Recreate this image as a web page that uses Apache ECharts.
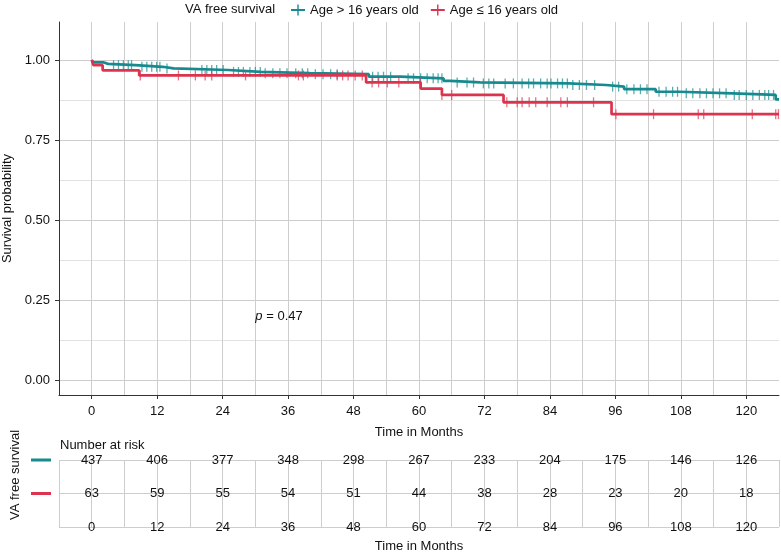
<!DOCTYPE html>
<html>
<head>
<meta charset="utf-8">
<style>html,body{margin:0;padding:0;background:#fff}#c{width:781px;height:556px}</style>
<script src="https://cdn.jsdelivr.net/npm/echarts@6/dist/echarts.min.js"></script>
</head>
<body>
<div id="c"></div>
<script>
// ---------- data ----------
const xTicks = [0, 12, 24, 36, 48, 60, 72, 84, 96, 108, 120];
const xMinorTicks = [6, 18, 30, 42, 54, 66, 78, 90, 102, 114];
const yTicks = [0, 0.25, 0.5, 0.75, 1];
const yMinorTicks = [0.125, 0.375, 0.625, 0.875];

const groupNames = ['Age > 16 years old', 'Age \u2264 16 years old'];

const tealTimes = [0, 0.3, 2.1, 3, 8, 13, 15, 25, 31, 40, 50.8, 56.6, 64.5, 65.7, 71.2, 87.4, 94.3, 97.6, 103.4, 107.6, 117.5, 125.4, 126];
const tealSurv  = [1, 0.993, 0.988, 0.984, 0.979, 0.974, 0.969, 0.963, 0.959, 0.956, 0.948, 0.943, 0.935, 0.930, 0.927, 0.922, 0.917, 0.909, 0.901, 0.896, 0.891, 0.877, 0.877];
const tealCensor = [4, 4.9, 5.8, 6.7, 7.3, 9.2, 10.1, 11, 11.9, 12.5, 13.8, 20.2, 21.1, 22, 22.9, 24.1, 26, 26.9, 27.8, 29, 30, 30.9, 31.8, 33.2, 34.5, 35.8, 37.4, 38.6, 39.6, 41, 42.4, 43.8, 45, 51.5, 52.5, 53.5, 54.8, 58, 59, 60.3, 61.5, 62.6, 63.5, 64.2, 67, 68.8, 70, 71.8, 72.8, 73.7, 75.8, 77.3, 78.9, 80.1, 81, 82.3, 83.5, 84.2, 85.4, 86.3, 87.2, 88.2, 89.4, 90.7, 92.2, 95.5, 96.6, 98.1, 99.4, 100.6, 101.8, 104, 105.3, 106.5, 107.4, 109, 110.2, 111.5, 112.7, 113.9, 115.1, 116.3, 117.8, 118.7, 120, 121.2, 122.4, 123.4, 124.1, 125];

const redTimes = [0, 0.3, 2, 8.7, 50.3, 60.3, 64.2, 75.5, 95.3, 126];
const redSurv  = [1, 0.984, 0.968, 0.952, 0.930, 0.911, 0.891, 0.868, 0.831, 0.831];
const redCensor = [8.9, 15.9, 19, 20.8, 22, 28.2, 37.9, 38.8, 45, 46, 47, 48.3, 49.6, 51.4, 52.6, 54.2, 56.3, 60.2, 64.2, 66, 76.1, 78, 78.9, 80.2, 81.4, 83.5, 86, 87.2, 92, 96.1, 103, 111.2, 112.2, 121.1, 125.4, 125.9];

const riskTimes = [0, 12, 24, 36, 48, 60, 72, 84, 96, 108, 120];
const riskTeal = [437, 406, 377, 348, 298, 267, 233, 204, 175, 146, 126];
const riskRed  = [63, 59, 55, 54, 51, 44, 38, 28, 23, 20, 18];

const pValue = 0.47;
const pCoord = [30, 0.2];

// ---------- styles ----------
const TEAL = '#178a8f';
const RED = '#dc344f';
const FONT = 'Liberation Sans, Arial, Helvetica, sans-serif';
const TXT = '#111111';
const GRID_MAJ = '#cdcdcd';
const GRID_MIN = '#e2e2e2';

function stepAt(times, surv, t) {
  let v = surv[0];
  for (let i = 0; i < times.length; i++) { if (times[i] <= t) v = surv[i]; }
  return v;
}
const zip = (a, b) => a.map((v, i) => [v, b[i]]);
const plusIcon = 'path://M0,4.6H14V6.4H0Z M6.3,0H7.7V11H6.3Z';
const textLabel = {show: true, position: 'inside', color: TXT, opacity: 1, fontSize: 13, fontFamily: FONT, formatter: p => String(p.value[2])};

const chart = echarts.init(document.getElementById('c'), null, {renderer: 'canvas'});
chart.setOption({
  animation: false,
  backgroundColor: '#fff',
  textStyle: {fontFamily: FONT},
  grid: [
    {left: 59, top: 22, width: 720, height: 373, containLabel: false, outerBoundsMode: 'none'},
    {left: 59, top: 460, width: 720, height: 67, containLabel: false, outerBoundsMode: 'none'}
  ],
  legend: {
    left: 291, top: 3.5, padding: 0, itemWidth: 14, itemHeight: 11, itemGap: 12,
    textStyle: {fontSize: 13, color: TXT, fontFamily: FONT},
    data: [{name: groupNames[0], icon: plusIcon}, {name: groupNames[1], icon: plusIcon}]
  },
  xAxis: [
    {
      gridIndex: 0, type: 'value', min: -6, max: 126,
      name: 'Time in Months', nameLocation: 'middle', nameGap: 31,
      nameTextStyle: {fontSize: 13, color: TXT, fontFamily: FONT},
      axisLine: {show: true, onZero: false, lineStyle: {color: '#333', width: 1}},
      axisTick: {show: true, length: 4, customValues: xTicks, lineStyle: {color: '#333'}},
      axisLabel: {customValues: xTicks, fontSize: 13, color: TXT, margin: 10, fontFamily: FONT},
      splitLine: {show: true, lineStyle: {color: GRID_MAJ, width: 1}}
    },
    {
      gridIndex: 1, type: 'value', min: -6, max: 126, interval: 6,
      name: 'Time in Months', nameLocation: 'middle', nameGap: 13,
      nameTextStyle: {fontSize: 13, color: TXT, fontFamily: FONT},
      axisLine: {show: false, onZero: false}, axisTick: {show: false},
      axisLabel: {
        fontSize: 13, color: TXT, margin: 0, verticalAlign: 'middle', fontFamily: FONT,
        showMinLabel: true, showMaxLabel: true,
        formatter: v => (xTicks.indexOf(v) >= 0 ? String(v) : '')
      },
      splitLine: {show: true, lineStyle: {color: GRID_MAJ, width: 1}}
    },
    {
      gridIndex: 0, type: 'value', min: -6, max: 126, position: 'top',
      axisLine: {show: false, onZero: false}, axisLabel: {show: false},
      axisTick: {show: false, customValues: xMinorTicks},
      splitLine: {show: true, lineStyle: {color: GRID_MAJ, width: 1}}
    }
  ],
  yAxis: [
    {
      gridIndex: 0, type: 'value', min: -0.047, max: 1.119,
      name: 'Survival probability', nameLocation: 'middle', nameGap: 44,
      nameTextStyle: {fontSize: 13, color: TXT, fontFamily: FONT},
      axisLine: {show: true, onZero: false, lineStyle: {color: '#333', width: 1}},
      axisTick: {show: true, length: 4, customValues: yTicks, lineStyle: {color: '#333'}},
      axisLabel: {customValues: yTicks, fontSize: 13, color: TXT, margin: 9, fontFamily: FONT,
        formatter: v => v.toFixed(2)},
      splitLine: {show: true, lineStyle: {color: GRID_MAJ, width: 1}}
    },
    {
      gridIndex: 1, type: 'value', min: 0, max: 2, interval: 1,
      axisLine: {show: false, onZero: false}, axisTick: {show: false},
      axisLabel: {
        margin: 8,
        formatter: v => (v === 2 ? '{t| }' : (v === 1 ? '{r| }' : '')),
        rich: {
          t: {backgroundColor: TEAL, width: 20, height: 3, fontSize: 1, lineHeight: 3},
          r: {backgroundColor: RED, width: 20, height: 3, fontSize: 1, lineHeight: 3}
        }
      },
      splitLine: {show: true, lineStyle: {color: GRID_MAJ, width: 1}}
    },
    {
      gridIndex: 0, type: 'value', min: -0.047, max: 1.119, position: 'right',
      axisLine: {show: false, onZero: false}, axisLabel: {show: false},
      axisTick: {show: false, customValues: yMinorTicks},
      splitLine: {show: true, lineStyle: {color: GRID_MIN, width: 1}}
    }
  ],
  graphic: [
    {type: 'text', left: 185, top: 2.5, style: {text: 'VA free survival', fill: TXT, font: '13px ' + FONT}},
    {type: 'text', left: 60, top: 439, style: {text: 'Number at risk', fill: TXT, font: '13px ' + FONT}},
    {type: 'text', x: 15, y: 475, rotation: Math.PI / 2,
      style: {text: 'VA free survival', fill: TXT, font: '13px ' + FONT, align: 'center', verticalAlign: 'middle'}}
  ],
  series: [
    {
      name: groupNames[0], type: 'line', xAxisIndex: 0, yAxisIndex: 0, step: 'end',
      symbol: 'none', color: TEAL, lineStyle: {width: 2.7, color: TEAL}, z: 3,
      data: zip(tealTimes, tealSurv), clip: true
    },
    {
      name: groupNames[1], type: 'line', xAxisIndex: 0, yAxisIndex: 0, step: 'end',
      symbol: 'none', color: RED, lineStyle: {width: 2.7, color: RED}, z: 4,
      data: zip(redTimes, redSurv), clip: true
    },
    {
      name: groupNames[0], type: 'scatter', xAxisIndex: 0, yAxisIndex: 0,
      symbol: 'rect', symbolSize: [1.3, 10], itemStyle: {color: TEAL, opacity: 0.7}, z: 3,
      data: tealCensor.map(t => [t, stepAt(tealTimes, tealSurv, t)])
    },
    {
      name: groupNames[1], type: 'scatter', xAxisIndex: 0, yAxisIndex: 0,
      symbol: 'rect', symbolSize: [1.3, 10], itemStyle: {color: RED, opacity: 0.7}, z: 4,
      data: redCensor.map(t => [t, stepAt(redTimes, redSurv, t)])
    },
    {
      type: 'scatter', xAxisIndex: 0, yAxisIndex: 0, symbolSize: 0, silent: true,
      itemStyle: {opacity: 1},
      data: [pCoord],
      label: {show: true, position: 'right', distance: 0, color: TXT, opacity: 1, fontSize: 13, fontFamily: FONT,
        formatter: '{i|p} = ' + pValue.toFixed(2),
        rich: {i: {fontStyle: 'italic', fontSize: 13, color: TXT, fontFamily: FONT}}}
    },
    {
      type: 'scatter', xAxisIndex: 1, yAxisIndex: 1, symbolSize: 0, silent: true,
      itemStyle: {opacity: 1},
      data: riskTimes.map((t, i) => [t, 2, riskTeal[i]]),
      label: textLabel
    },
    {
      type: 'scatter', xAxisIndex: 1, yAxisIndex: 1, symbolSize: 0, silent: true,
      itemStyle: {opacity: 1},
      data: riskTimes.map((t, i) => [t, 1, riskRed[i]]),
      label: textLabel
    }
  ]
});
</script>
</body>
</html>
